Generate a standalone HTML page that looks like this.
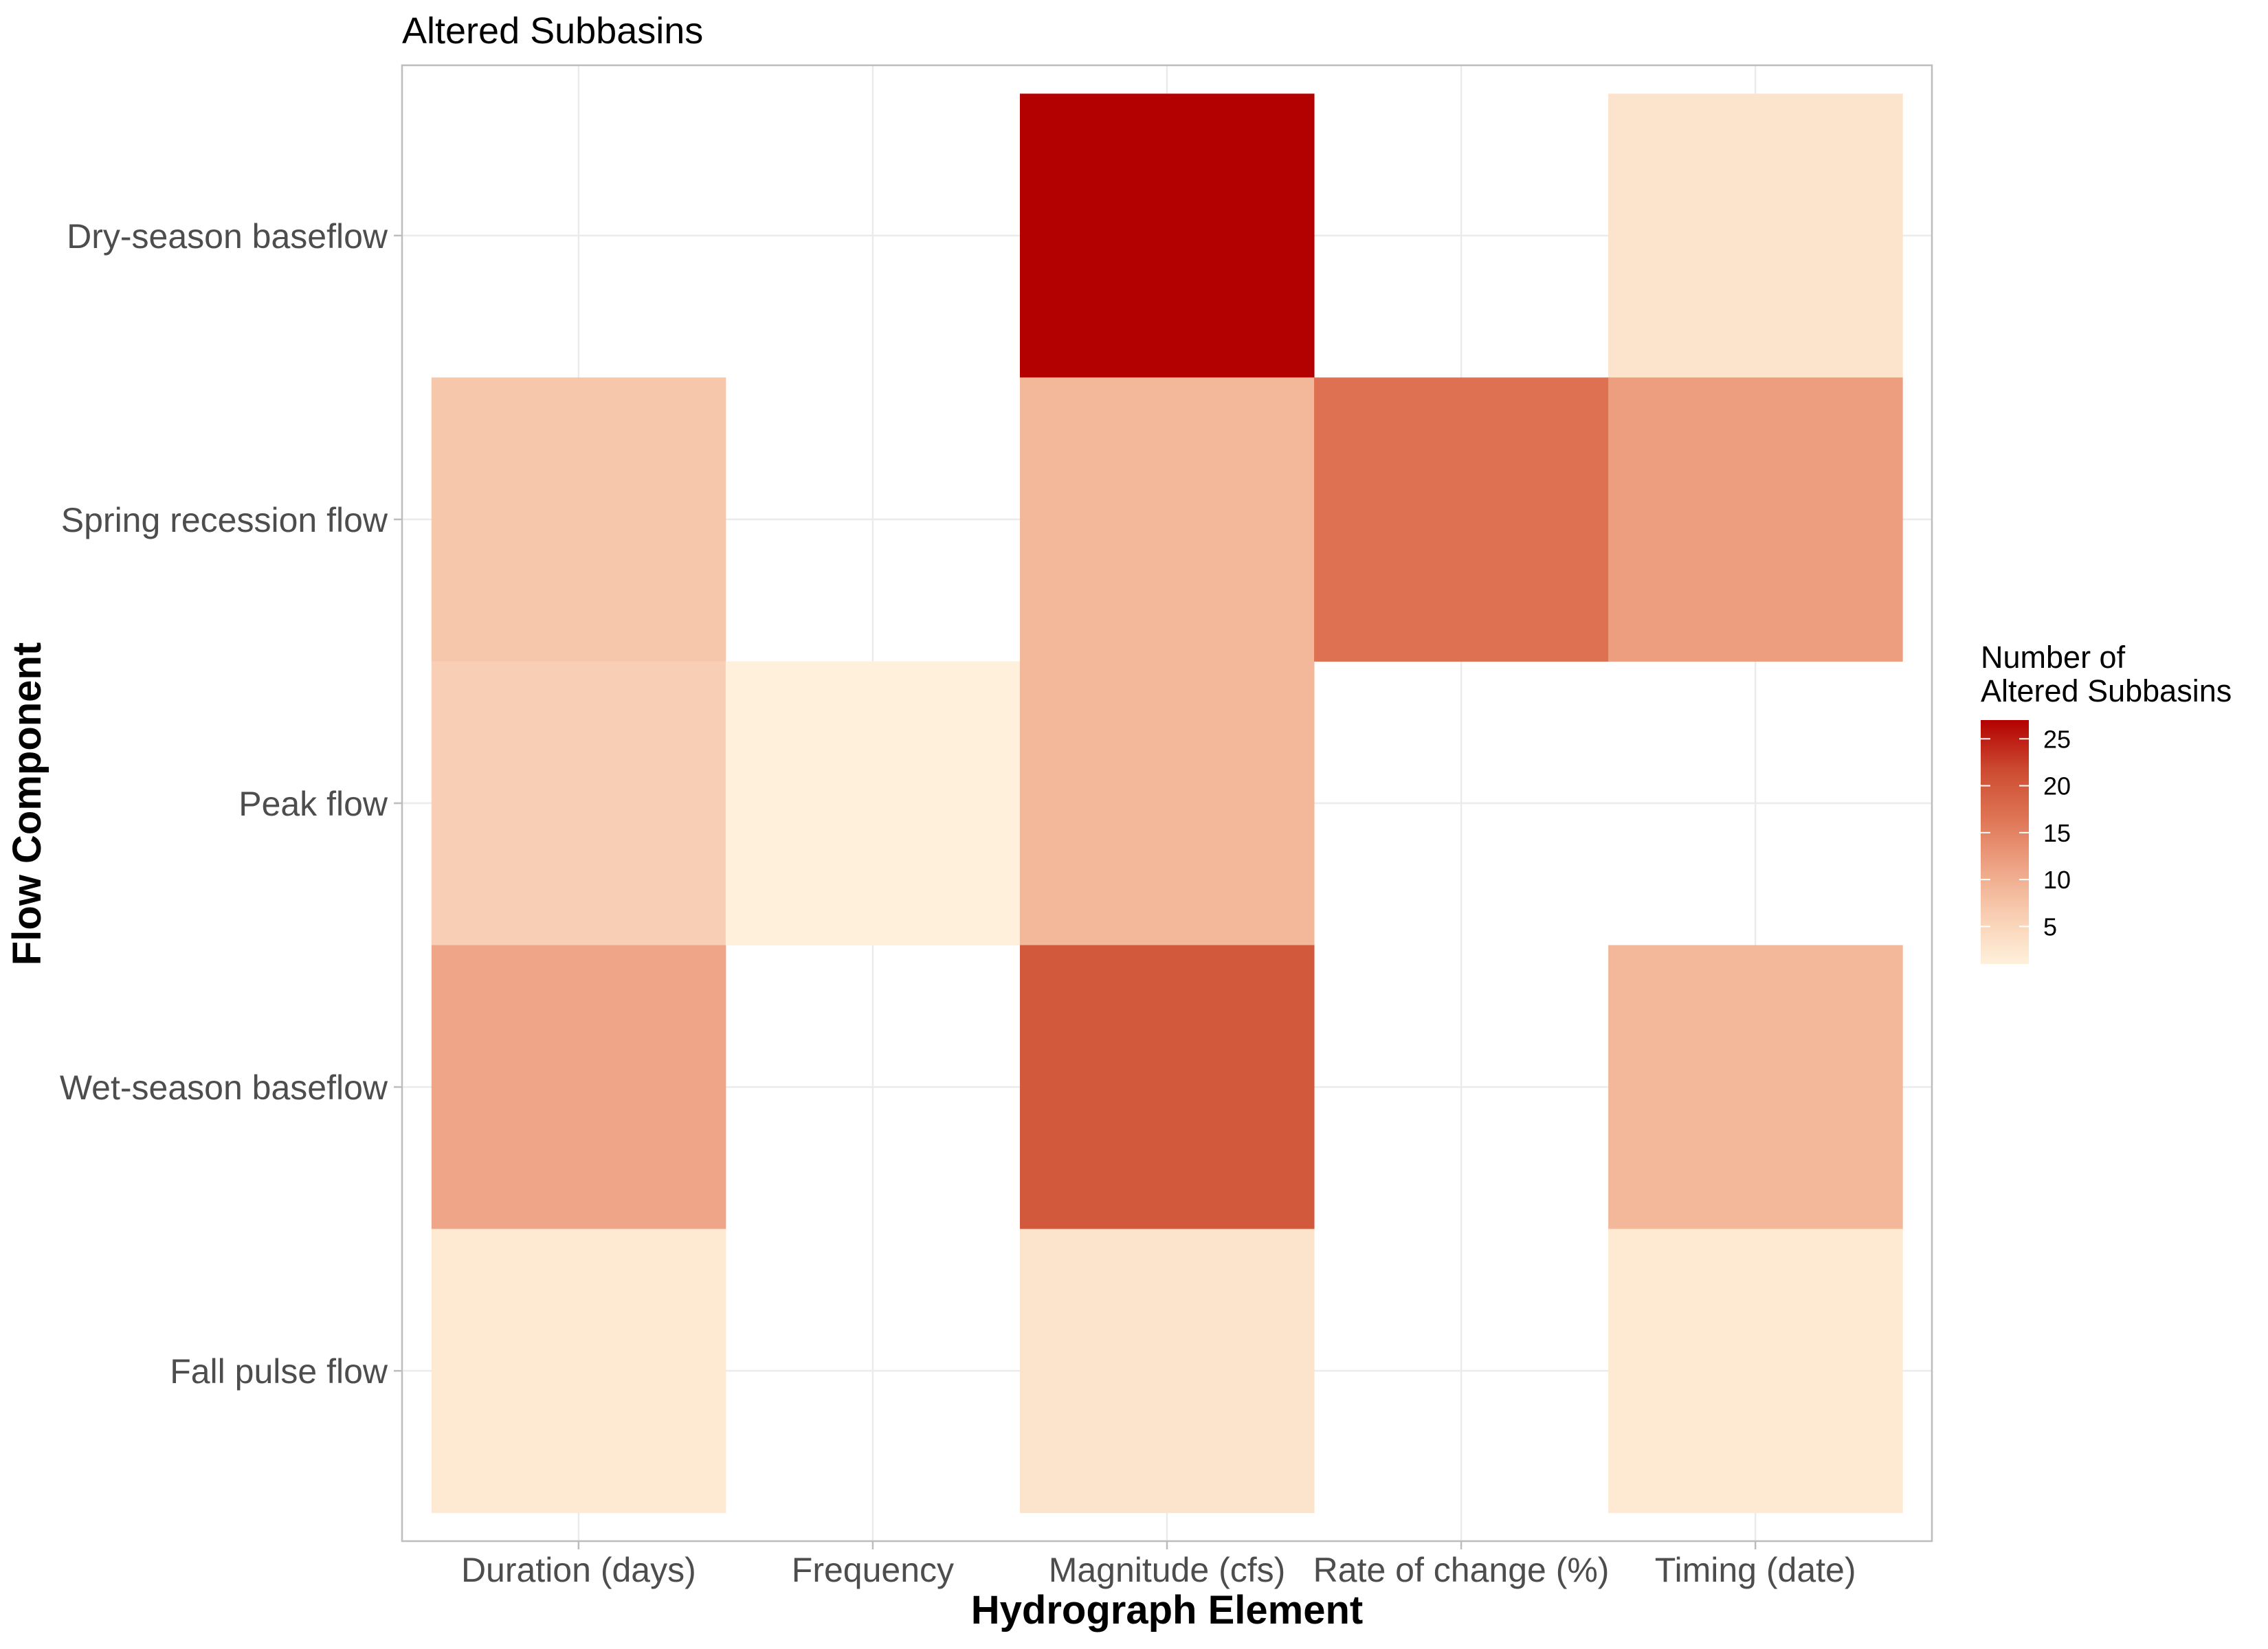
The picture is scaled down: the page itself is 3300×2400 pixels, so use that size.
<!DOCTYPE html>
<html><head><meta charset="utf-8"><style>
html,body{margin:0;padding:0;background:#fff;}
svg{display:block;font-family:"Liberation Sans",Arial,sans-serif;}
</style></head><body>
<svg id="chart" width="3300" height="2400" viewBox="0 0 3300 2400" xmlns="http://www.w3.org/2000/svg">
<rect x="0" y="0" width="3300" height="2400" fill="#fff"/>
<g id="grid"></g>
<g id="tiles"></g>
<rect x="585" y="95" width="2226" height="2148" fill="none" stroke="#BDBDBD" stroke-width="2.5"/>
<g id="axes"></g>
<text x="585" y="63" font-size="54" fill="#000">Altered Subbasins</text>
<text x="1698" y="2363" font-size="58" font-weight="bold" text-anchor="middle" fill="#000">Hydrograph Element</text>
<text transform="translate(59,1170) rotate(-90)" font-size="58" font-weight="bold" text-anchor="middle" fill="#000">Flow Component</text>
<g id="legend">
<text x="2882" y="972" font-size="45" fill="#000">Number of</text>
<text x="2882" y="1021" font-size="45" fill="#000">Altered Subbasins</text>
</g>
</svg>
<script>
const categoriesX = ["Duration (days)", "Frequency", "Magnitude (cfs)", "Rate of change (%)", "Timing (date)"];
const categoriesY = ["Dry-season baseflow", "Spring recession flow", "Peak flow", "Wet-season baseflow", "Fall pulse flow"];
const cellX = ["Magnitude (cfs)", "Timing (date)", "Duration (days)", "Magnitude (cfs)", "Rate of change (%)", "Timing (date)", "Duration (days)", "Frequency", "Magnitude (cfs)", "Duration (days)", "Magnitude (cfs)", "Timing (date)", "Duration (days)", "Magnitude (cfs)", "Timing (date)"];
const cellY = ["Dry-season baseflow", "Dry-season baseflow", "Spring recession flow", "Spring recession flow", "Spring recession flow", "Spring recession flow", "Peak flow", "Peak flow", "Peak flow", "Wet-season baseflow", "Wet-season baseflow", "Wet-season baseflow", "Fall pulse flow", "Fall pulse flow", "Fall pulse flow"];
const cellValues = [27, 3, 7, 9, 17, 12, 6, 1, 9, 11, 20, 9, 2, 3, 2];
const legendTicks = [5, 10, 15, 20, 25];
const colorMin = 1, colorMax = 27;

const NS = "http://www.w3.org/2000/svg";
const L = 585, R = 2811, T = 95, B = 2243;
const ux = (R - L) / (categoriesX.length + 0.2);
const uy = (B - T) / (categoriesY.length + 0.2);
function xScale(c) { return L + (categoriesX.indexOf(c) + 0.6) * ux; }
function yScale(c) { return T + (categoriesY.indexOf(c) + 0.6) * uy; }
const stops = [[0, [255, 240, 219]], [0.2, [248, 206, 178]], [0.4, [238, 163, 133]], [0.6, [222, 116, 84]], [0.8, [204, 74, 48]], [1, [179, 0, 0]]];
function color(v) {
  let t = Math.max(0, Math.min(1, (v - colorMin) / (colorMax - colorMin)));
  for (let i = 1; i < stops.length; i++) {
    if (t <= stops[i][0]) {
      const a = stops[i - 1], b = stops[i];
      const f = (t - a[0]) / (b[0] - a[0]);
      const c = a[1].map((x, k) => Math.round(x + (b[1][k] - x) * f));
      return `rgb(${c[0]},${c[1]},${c[2]})`;
    }
  }
  return "rgb(179,0,0)";
}
function mk(tag, attrs, parent) {
  const e = document.createElementNS(NS, tag);
  for (const k in attrs) e.setAttribute(k, attrs[k]);
  parent.appendChild(e);
  return e;
}
const grid = document.getElementById("grid");
const tiles = document.getElementById("tiles");
const axes = document.getElementById("axes");
categoriesX.forEach(c => {
  const x = xScale(c);
  const g = mk("line", {x1: x, x2: x, y1: T, y2: B, stroke: "#EBEBEB", "stroke-width": 2.5}, grid);
  
  
  const t = mk("line", {x1: x, x2: x, y1: B, y2: B + 12, stroke: "#BDBDBD", "stroke-width": 2.5}, axes);
  
  
  const tx = mk("text", {x: x, y: 2302, "font-size": 50, fill: "#4D4D4D", "text-anchor": "middle"}, axes);
  tx.textContent = c;
  
  
});
categoriesY.forEach(c => {
  const y = yScale(c);
  const g = mk("line", {x1: L, x2: R, y1: y, y2: y, stroke: "#EBEBEB", "stroke-width": 2.5}, grid);
  
  
  const t = mk("line", {x1: L - 12, x2: L, y1: y, y2: y, stroke: "#BDBDBD", "stroke-width": 2.5}, axes);
  
  
  const tx = mk("text", {x: 564, y: y + 18, "font-size": 50, fill: "#4D4D4D", "text-anchor": "end"}, axes);
  tx.textContent = c;
  
  
});
cellValues.forEach((v, i) => {
  const cx = xScale(cellX[i]), cy = yScale(cellY[i]);
  const r = mk("rect", {x: cx - ux / 2, y: cy - uy / 2, width: ux + 0.5, height: uy + 0.5, fill: color(v)}, tiles);
  
  
});
const leg = document.getElementById("legend");
const barX = 2882, barW = 70, barTop = 1048, barBot = 1403;
function ly(v) { return barBot - (v - colorMin) / (colorMax - colorMin) * (barBot - barTop); }
const defs = mk("defs", {}, leg);
const grad = mk("linearGradient", {id: "cg", x1: 0, y1: 1, x2: 0, y2: 0}, defs);
for (let i = 0; i <= 20; i++) {
  const v = colorMin + (colorMax - colorMin) * i / 20;
  mk("stop", {offset: (i / 20), "stop-color": color(v)}, grad);
}
const bar = mk("rect", {x: barX, y: barTop, width: barW, height: barBot - barTop, fill: "url(#cg)"}, leg);


legendTicks.forEach(v => {
  const y = ly(v);
  const a = mk("line", {x1: barX, x2: barX + 14, y1: y, y2: y, stroke: "#fff", "stroke-width": 2}, leg);
  
  
  const b = mk("line", {x1: barX + barW - 14, x2: barX + barW, y1: y, y2: y, stroke: "#fff", "stroke-width": 2}, leg);
  
  
  const t = mk("text", {x: 2973, y: y + 13, "font-size": 36, fill: "#000"}, leg);
  t.textContent = v;
  
  
});
</script>
</body></html>
